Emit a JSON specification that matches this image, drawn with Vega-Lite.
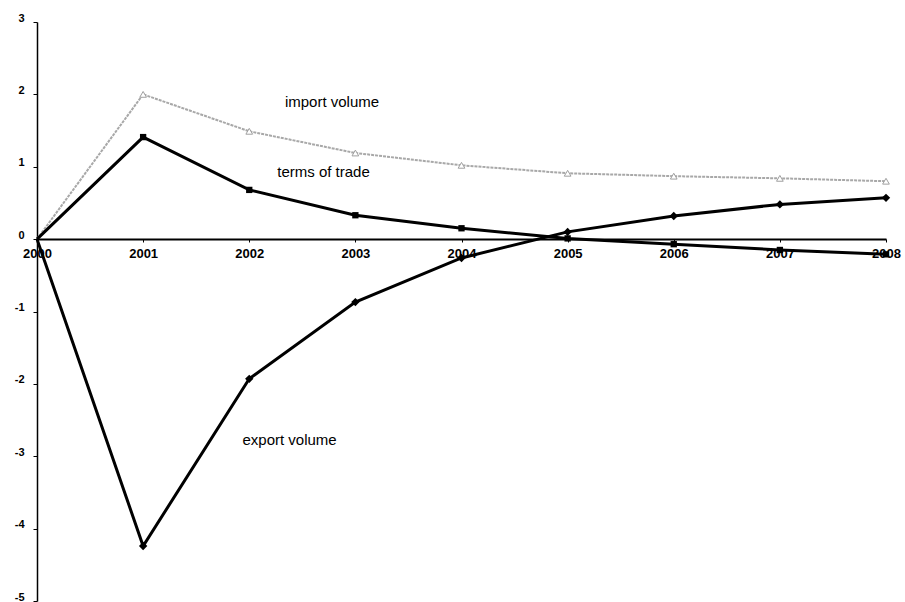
{
  "$schema": "https://vega.github.io/schema/vega-lite/v6.json",
  "width": 849,
  "height": 579,
  "autosize": {"type": "none"},
  "padding": {"left": 37, "top": 22, "right": 19, "bottom": 1},
  "background": "white",
  "config": {"view": {"stroke": null}, "font": "Liberation Sans"},
  "datasets": {
    "series": [
      {"year": 2000, "series": "import volume", "value": 0},
      {"year": 2001, "series": "import volume", "value": 2.0},
      {"year": 2002, "series": "import volume", "value": 1.49},
      {"year": 2003, "series": "import volume", "value": 1.19},
      {"year": 2004, "series": "import volume", "value": 1.02},
      {"year": 2005, "series": "import volume", "value": 0.91},
      {"year": 2006, "series": "import volume", "value": 0.87},
      {"year": 2007, "series": "import volume", "value": 0.84},
      {"year": 2008, "series": "import volume", "value": 0.8},
      {"year": 2000, "series": "terms of trade", "value": 0},
      {"year": 2001, "series": "terms of trade", "value": 1.41},
      {"year": 2002, "series": "terms of trade", "value": 0.68},
      {"year": 2003, "series": "terms of trade", "value": 0.33},
      {"year": 2004, "series": "terms of trade", "value": 0.15},
      {"year": 2005, "series": "terms of trade", "value": 0.01},
      {"year": 2006, "series": "terms of trade", "value": -0.07},
      {"year": 2007, "series": "terms of trade", "value": -0.15},
      {"year": 2008, "series": "terms of trade", "value": -0.21},
      {"year": 2000, "series": "export volume", "value": 0},
      {"year": 2001, "series": "export volume", "value": -4.24},
      {"year": 2002, "series": "export volume", "value": -1.93},
      {"year": 2003, "series": "export volume", "value": -0.87},
      {"year": 2004, "series": "export volume", "value": -0.26},
      {"year": 2005, "series": "export volume", "value": 0.1},
      {"year": 2006, "series": "export volume", "value": 0.32},
      {"year": 2007, "series": "export volume", "value": 0.48},
      {"year": 2008, "series": "export volume", "value": 0.57}
    ],
    "labels": [
      {"year": 2002.78, "value": 1.89, "text": "import volume"},
      {"year": 2002.7, "value": 0.93, "text": "terms of trade"},
      {"year": 2002.38, "value": -2.78, "text": "export volume"}
    ]
  },
  "encoding": {
    "x": {
      "field": "year", "type": "quantitative",
      "scale": {"domain": [2000, 2008], "nice": false, "zero": false},
      "axis": {
        "values": [2000, 2001, 2002, 2003, 2004, 2005, 2006, 2007, 2008],
        "format": "d", "title": null, "grid": false,
        "offset": -362, "domainColor": "black", "domainWidth": 2,
        "tickColor": "black", "tickSize": 3, "labelPadding": 5,
        "labelFontSize": 13, "labelFontWeight": "bold", "labelColor": "black",
        "labelFlush": false
      }
    },
    "y": {
      "field": "value", "type": "quantitative",
      "scale": {"domain": [-5, 3], "nice": false},
      "axis": {
        "values": [-5, -4, -3, -2, -1, 0, 1, 2, 3],
        "labelExpr": "'' + datum.value",
        "title": null, "grid": false, "domainColor": "black", "domainWidth": 1.5,
        "tickColor": "black", "tickSize": 4, "labelPadding": 9, "labelOffset": -4,
        "labelFontSize": 11, "labelFontWeight": "bold", "labelColor": "black",
        "labelFlush": false
      }
    }
  },
  "layer": [
    {
      "data": {"name": "series"},
      "transform": [{"filter": "datum.series === 'import volume'"}],
      "mark": {"type": "line", "color": "#a8a8a8", "strokeWidth": 2, "strokeDash": [3, 1]}
    },
    {
      "data": {"name": "series"},
      "transform": [{"filter": "datum.series === 'import volume' && datum.year > 2000"}],
      "mark": {"type": "point", "shape": "triangle-up", "filled": true, "fill": "white", "stroke": "#a0a0a0", "strokeWidth": 1, "size": 45, "opacity": 1}
    },
    {
      "data": {"name": "series"},
      "transform": [{"filter": "datum.series === 'terms of trade'"}],
      "mark": {"type": "line", "color": "black", "strokeWidth": 3}
    },
    {
      "data": {"name": "series"},
      "transform": [{"filter": "datum.series === 'terms of trade' && datum.year > 2000"}],
      "mark": {"type": "point", "shape": "square", "filled": true, "color": "black", "size": 40, "opacity": 1}
    },
    {
      "data": {"name": "series"},
      "transform": [{"filter": "datum.series === 'export volume'"}],
      "mark": {"type": "line", "color": "black", "strokeWidth": 3}
    },
    {
      "data": {"name": "series"},
      "transform": [{"filter": "datum.series === 'export volume' && datum.year > 2000"}],
      "mark": {"type": "point", "shape": "diamond", "filled": true, "color": "black", "size": 70, "opacity": 1}
    },
    {
      "data": {"name": "labels"},
      "mark": {"type": "text", "fontSize": 15, "color": "black", "align": "center", "baseline": "middle"},
      "encoding": {"text": {"field": "text"}}
    }
  ]
}
